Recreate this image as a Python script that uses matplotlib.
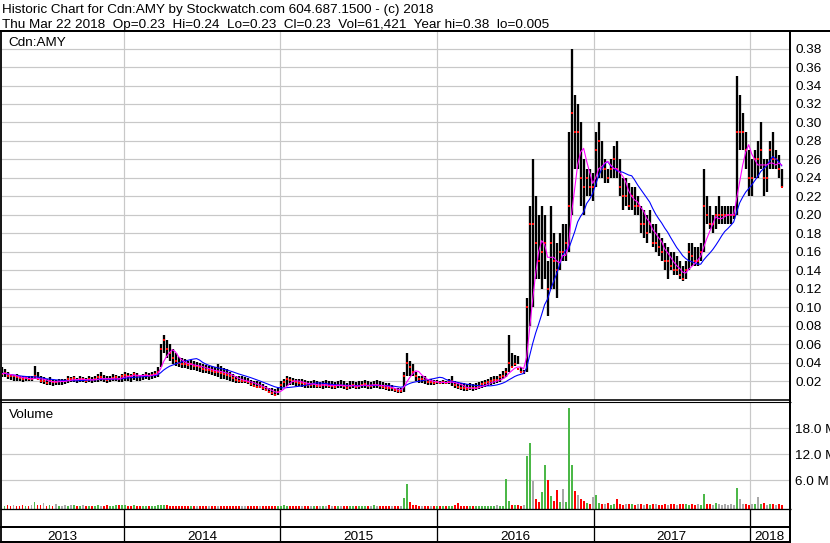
import numpy as np
import pandas as pd
import matplotlib
matplotlib.use("Agg")
import matplotlib.pyplot as plt
import matplotlib.dates as mdates
from matplotlib.lines import Line2D
from datetime import datetime

plt.rcParams['font.family'] = ['Liberation Sans', 'DejaVu Sans']

# ---------------- data (weekly) ----------------
start_date = "2013-03-22"
n_weeks = 261

high = [
    .035, .033, .030, .028, .027, .028, .026, .025, .026, .025,
    .026, .036, .030, .025, .024, .022, .024, .022, .021, .022,
    .022, .022, .025, .024, .025, .023, .025, .024, .023, .025,
    .024, .025, .028, .030, .027, .026, .025, .028, .027, .025,
    .028, .030, .029, .028, .030, .029, .027, .028, .030, .029,
    .030, .031, .035, .060, .070, .065, .060, .055, .050, .046,
    .045, .044, .042, .043, .042, .041, .040, .038, .037, .036,
    .036, .035, .038, .036, .034, .033, .030, .028, .026, .025,
    .025, .024, .023, .021, .020, .020, .019, .017, .015, .013,
    .012, .011, .012, .020, .022, .025, .024, .023, .022, .022,
    .022, .021, .020, .020, .021, .020, .019, .020, .021, .020,
    .020, .019, .020, .021, .020, .018, .020, .020, .019, .020,
    .020, .021, .020, .019, .020, .021, .020, .019, .018, .018,
    .016, .013, .012, .012, .030, .050, .042, .038, .030, .026,
    .026, .025, .022, .022, .021, .021, .020, .021, .020, .022,
    .025, .020, .019, .018, .018, .017, .018, .017, .018, .019,
    .020, .021, .022, .024, .025, .025, .028, .031, .034, .070,
    .050, .048, .047, .035, .032, .110, .210, .260, .220, .200,
    .210, .200, .150, .210, .180, .170, .180, .190, .190, .290,
    .380, .330, .320, .300, .260, .250, .250, .245, .290, .300,
    .280, .260, .250, .260, .275, .280, .260, .240, .240, .235,
    .230, .230, .220, .210, .205, .200, .205, .190, .190, .180,
    .175, .170, .165, .160, .160, .155, .150, .145, .150, .170,
    .170, .165, .165, .170, .250, .220, .210, .200, .210, .220,
    .210, .210, .210, .210, .210, .350, .330, .310, .290, .270,
    .260, .270, .280, .300, .260, .260, .280, .290, .270, .265,
    .250,
]

low = [
    .024, .024, .022, .021, .020, .020, .020, .019, .020, .020,
    .020, .022, .021, .018, .017, .016, .016, .015, .016, .016,
    .016, .017, .018, .019, .019, .018, .019, .019, .018, .019,
    .018, .019, .019, .020, .019, .018, .019, .020, .020, .019,
    .019, .020, .020, .019, .021, .020, .020, .021, .022, .021,
    .022, .023, .024, .035, .050, .045, .042, .038, .036, .035,
    .034, .034, .033, .032, .032, .031, .030, .029, .029, .028,
    .027, .026, .024, .022, .022, .021, .020, .019, .018, .018,
    .018, .018, .017, .015, .014, .013, .012, .010, .009, .007,
    .005, .004, .005, .010, .014, .015, .016, .016, .015, .015,
    .014, .013, .012, .012, .013, .012, .012, .011, .012, .012,
    .011, .011, .012, .012, .011, .010, .011, .012, .011, .011,
    .012, .012, .011, .011, .012, .012, .011, .011, .010, .009,
    .009, .008, .007, .007, .008, .025, .025, .025, .020, .018,
    .018, .017, .016, .016, .016, .017, .017, .017, .017, .017,
    .015, .013, .011, .010, .009, .009, .010, .009, .010, .011,
    .013, .014, .015, .016, .017, .018, .019, .022, .024, .030,
    .035, .036, .038, .030, .028, .030, .080, .100, .130, .130,
    .120, .130, .090, .120, .120, .110, .140, .150, .150, .160,
    .200, .250, .250, .210, .200, .220, .220, .215, .230, .240,
    .240, .235, .235, .240, .240, .240, .220, .205, .210, .205,
    .205, .200, .200, .180, .175, .170, .180, .165, .160, .155,
    .150, .140, .130, .140, .135, .135, .130, .128, .130, .140,
    .145, .145, .145, .150, .160, .190, .185, .180, .185, .190,
    .190, .190, .190, .190, .195, .200, .270, .270, .250, .220,
    .220, .240, .240, .250, .220, .225, .250, .250, .250, .240,
    .230,
]

close = [
    .028, .029, .026, .025, .025, .024, .023, .022, .023, .022,
    .022, .026, .022, .020, .020, .018, .020, .019, .019, .020,
    .020, .020, .022, .022, .023, .021, .022, .022, .020, .022,
    .021, .022, .024, .024, .022, .021, .022, .023, .024, .022,
    .025, .027, .026, .025, .028, .026, .025, .026, .027, .026,
    .027, .028, .030, .055, .065, .055, .050, .045, .042, .040,
    .039, .038, .037, .038, .036, .036, .035, .033, .032, .032,
    .031, .030, .030, .029, .028, .027, .025, .023, .021, .020,
    .020, .020, .019, .017, .015, .014, .014, .012, .010, .008,
    .007, .005, .008, .016, .019, .022, .021, .020, .019, .018,
    .018, .017, .016, .016, .017, .015, .015, .016, .016, .015,
    .015, .014, .016, .016, .015, .013, .015, .016, .014, .015,
    .016, .017, .015, .015, .016, .016, .015, .014, .013, .012,
    .012, .010, .009, .009, .025, .040, .035, .030, .025, .022,
    .022, .021, .019, .019, .018, .019, .018, .019, .018, .019,
    .020, .016, .014, .013, .012, .011, .013, .012, .013, .015,
    .017, .018, .019, .020, .021, .021, .024, .026, .030, .040,
    .035, .038, .033, .030, .030, .100, .190, .190, .170, .150,
    .160, .170, .120, .170, .150, .140, .160, .160, .170, .210,
    .310, .290, .290, .240, .230, .240, .230, .230, .270, .280,
    .250, .250, .240, .250, .260, .250, .230, .220, .220, .210,
    .220, .210, .210, .190, .190, .180, .190, .170, .170, .165,
    .160, .150, .150, .145, .140, .140, .135, .130, .140, .160,
    .155, .150, .150, .160, .210, .200, .190, .190, .200, .200,
    .200, .200, .200, .200, .200, .290, .290, .290, .270, .240,
    .240, .260, .260, .270, .240, .240, .270, .260, .260, .250,
    .230,
]

volume_m = [
    .20, .15, .30, .10, .20, .15, .10, .20, .10, .15,
    .20, 1.06, .30, .20, .85, .10, .20, .15, .54, .10,
    .15, .20, .10, .20, .31, .15, .10, .20, .10, .15,
    .10, .15, .20, .10, .15, .20, .10, .15, .30, .20,
    .25, .20, .15, .10, .20, .10, .15, .10, .10, .15,
    .10, .15, .20, .30, .25, .20, .15, .10, .15, .10,
    .10, .15, .10, .10, .15, .10, .10, .15, .10, .10,
    .15, .10, .10, .10, .15, .10, .10, .10, .15, .10,
    .10, .15, .10, .10, .10, .15, .10, .10, .15, .10,
    .10, .10, .15, .10, .20, .15, .10, .10, .10, .15,
    .10, .15, .10, .10, .15, .10, .10, .15, .10, .25,
    .10, .10, .15, .10, .10, .10, .15, .10, .10, .10,
    .10, .10, .10, .15, .20, .10, .10, .10, .10, .10,
    .10, .10, .15, .10, 2.0, 5.15, 1.0, .30, .20, .15,
    .10, .10, .15, .10, .10, .15, .10, .10, .15, .10,
    .10, .20, .70, .10, .10, .15, .10, .10, .10, .15,
    .10, .15, .10, .10, .15, .20, .10, .15, 6.3, 1.2,
    .40, .30, .20, .15, .20, 11.6, 14.7, 5.8, 1.6, 1.0,
    3.4, 9.5, 6.1, 2.4, 1.2, 3.8, 1.0, 3.9, 1.0, 22.6,
    9.5, 3.5, 2.6, 1.6, 1.2, .80, .60, 2.1, 2.6, .80,
    .60, .50, .70, .40, .50, 1.7, .50, .40, .60, .50,
    .50, .40, .60, .50, .40, .50, .40, .50, .60, .40,
    .40, .50, .40, .60, .50, .40, .50, .60, .50, .40,
    .50, .40, .60, .40, 2.8, .60, .50, .40, .70, .50,
    .40, .50, .40, .50, .40, 4.2, 1.8, .60, .50, .40,
    .60, .50, 2.1, .50, .70, .40, .50, .60, .40, .50,
    .30,
]

price_ticks = [0.02, 0.04, 0.06, 0.08, 0.10, 0.12, 0.14, 0.16, 0.18, 0.20,
               0.22, 0.24, 0.26, 0.28, 0.30, 0.32, 0.34, 0.36, 0.38]
volume_ticks = [6.0, 12.0, 18.0]
years = [2013, 2014, 2015, 2016, 2017, 2018]
fast_window = 5    # weeks
slow_window = 13   # weeks

title1 = "Historic Chart for Cdn:AMY by Stockwatch.com 604.687.1500 - (c) 2018"
title2 = ("Thu Mar 22 2018  Op=0.23  Hi=0.24  Lo=0.23  Cl=0.23  "
          "Vol=61,421  Year hi=0.38  lo=0.005")

# ---------------- derived ----------------
dates = pd.date_range(start_date, periods=n_weeks, freq="7D")
x = mdates.date2num(dates.to_pydatetime())
c = pd.Series(close)
ma_fast = c.rolling(fast_window, min_periods=1).mean().values
ma_slow = c.rolling(slow_window, min_periods=1).mean().values
chg = np.diff(np.r_[close[0], close])
vcolors = np.where(chg > 1e-9, '#4cb848', np.where(chg < -1e-9, '#ff0000', '#a8a8a8'))

# ---------------- figure ----------------
W, H = 830, 543
fig = plt.figure(figsize=(W / 100, H / 100), dpi=100)
fig.patch.set_facecolor('white')
FS = 9.7


def box(x0, y0, x1, y1):
    return [x0 / W, 1 - y1 / H, (x1 - x0) / W, (y1 - y0) / H]


def px(v):
    return v * 0.72


xlim = (mdates.date2num(datetime(2013, 3, 22)), mdates.date2num(datetime(2018, 4, 2)))
year_bounds = [mdates.date2num(datetime(y, 1, 1)) for y in years[1:]]
grid_c = '#c8c8c8'

# price panel
axp = fig.add_axes(box(1.5, 31.5, 789, 400))
axp.set_xlim(*xlim)
axp.set_ylim(-0.0005, 0.3985)
for s in axp.spines.values():
    s.set_visible(False)
axp.set_yticks(price_ticks)
axp.set_yticklabels([f"{t:.2f}" for t in price_ticks])
axp.yaxis.tick_right()
axp.tick_params(axis='y', length=0, pad=4.5, labelsize=FS, labelcolor='#000000')
axp.set_xticks(year_bounds)
axp.tick_params(axis='x', length=0, labelbottom=False)
axp.grid(True, color=grid_c, lw=px(1.2))
axp.set_axisbelow(True)

axp.vlines(x, low, high, color='black', lw=px(2.3), zorder=2)
axp.plot(x + 1.5, close, ls='none', marker='s', ms=px(2), color='#ff0000', mew=0, zorder=3)
axp.plot(x, ma_slow, color='#0000ff', lw=px(1.1), zorder=4)
axp.plot(x, ma_fast, color='#ff00ff', lw=px(1.1), zorder=5)
fig.text(8.3 / W, 1 - 46 / H, "Cdn:AMY", fontsize=FS, va='baseline', ha='left')

# volume panel
vbot = -0.62
axv = fig.add_axes(box(1.5, 403, 789, 509))
axv.set_xlim(*xlim)
axv.set_ylim(vbot, 23.84)
for s in axv.spines.values():
    s.set_visible(False)
axv.set_yticks(volume_ticks)
axv.set_yticklabels([f"{t:.1f} M" for t in volume_ticks])
axv.yaxis.tick_right()
axv.tick_params(axis='y', length=0, pad=4.5, labelsize=FS)
axv.set_xticks(year_bounds)
axv.tick_params(axis='x', length=0, labelbottom=False)
axv.grid(True, color=grid_c, lw=px(1.2))
axv.set_axisbelow(True)
axv.bar(x, np.array(volume_m) - vbot, bottom=vbot, width=4.6, color=vcolors,
        linewidth=0, zorder=2)
fig.text(9.3 / W, 1 - 418.3 / H, "Volume", fontsize=FS, va='baseline', ha='left')

# bottom (year) rows
axb = fig.add_axes(box(1.5, 509, 789, 542))
axb.set_xlim(*xlim)
axb.set_ylim(0, 1)
axb.axis('off')
for b in year_bounds:
    axb.axvline(b, color='black', lw=px(1.3))
edges = [xlim[0]] + year_bounds + [xlim[1]]
for i, yr in enumerate(years):
    mid = (edges[i] + edges[i + 1]) / 2
    axb.text(mid, (542 - 540) / 33, str(yr), ha='center', va='baseline', fontsize=FS)


def hline(y, x0, x1, lw):
    fig.add_artist(Line2D([x0 / W, x1 / W], [1 - y / H, 1 - y / H],
                          transform=fig.transFigure, color='black', lw=px(lw),
                          solid_capstyle='butt'))


def vline(xp, y0, y1, lw):
    fig.add_artist(Line2D([xp / W, xp / W], [1 - y0 / H, 1 - y1 / H],
                          transform=fig.transFigure, color='black', lw=px(lw),
                          solid_capstyle='butt'))


hline(30.5, 0, W, 2)
hline(400.3, 0, 790.5, 1.6)
hline(402.4, 0, 790.5, 1.1)
hline(509.3, 0, 790.5, 1.3)
hline(527.0, 0, 790.5, 2)
hline(541.7, 0, 790.5, 2)
vline(0.8, 30.5, 542.7, 1.8)
vline(789.5, 30.5, 542.7, 2)

fig.text(2 / W, 1 - 12.7 / H, title1, fontsize=FS, va='baseline', ha='left')
fig.text(2 / W, 1 - 27.7 / H, title2, fontsize=FS, va='baseline', ha='left')

fig.savefig("out.png", dpi=100, facecolor='white')
